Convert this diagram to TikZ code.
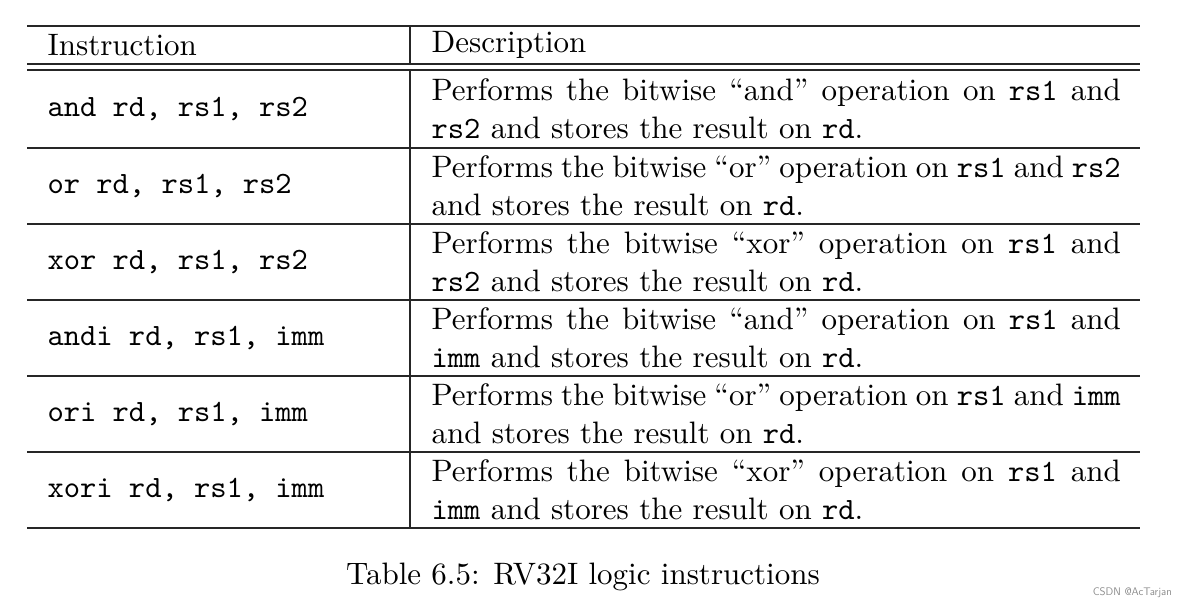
\documentclass[tikz,border=0pt]{standalone}
\tikzset{
  rule/.style={line width=1.5pt, draw=black!85},
  big/.style={scale=3.1, transform shape, inner sep=0pt},
  instr/.style={big, anchor=west, font=\fontsize{10}{12.26}\selectfont\ttfamily},
  desc/.style={big, anchor=west, text width=222.3pt, align=justify, font=\fontsize{10}{12.26}\selectfont},
  head/.style={big, anchor=west, font=\fontsize{10}{12.26}\selectfont}
}
\newcommand{\tw}[1]{\texttt{#1}}
\begin{document}
\begin{tikzpicture}[x=1pt,y=-1pt]
\useasboundingbox (0,0) rectangle (1187,610);
% rules
\draw[rule] (27,26) -- (1140,26);
\draw[rule] (27,64) -- (1140,64);
\draw[rule] (27,70) -- (1140,70);
\foreach \y in {148,224,300,376,452,528} \draw[rule] (27,\y) -- (1140,\y);
\draw[rule] (410,26) -- (410,64);
\draw[rule] (410,70) -- (410,528);
% header
\node[head] (h1) at (47,45) {Instruction};
\node[head] (h2) at (431,45) {Description};
% rows
\node[instr] (i1) at (47,109) {and rd, rs1, rs2};
\node[desc] (d1) at (431,109) {Performs the bitwise ``and'' operation on \tw{rs1} and \tw{rs2} and stores the result on \tw{rd}.};
\node[instr] (i2) at (47,186) {or rd, rs1, rs2};
\node[desc] (d2) at (431,186) {Performs the bitwise ``or'' operation on \tw{rs1} and \tw{rs2} and stores the result on \tw{rd}.};
\node[instr] (i3) at (47,262) {xor rd, rs1, rs2};
\node[desc] (d3) at (431,262) {Performs the bitwise ``xor'' operation on \tw{rs1} and \tw{rs2} and stores the result on \tw{rd}.};
\node[instr] (i4) at (47,338) {andi rd, rs1, imm};
\node[desc] (d4) at (431,338) {Performs the bitwise ``and'' operation on \tw{rs1} and \tw{imm} and stores the result on \tw{rd}.};
\node[instr] (i5) at (47,414) {ori rd, rs1, imm};
\node[desc] (d5) at (431,414) {Performs the bitwise ``or'' operation on \tw{rs1} and \tw{imm} and stores the result on \tw{rd}.};
\node[instr] (i6) at (47,490) {xori rd, rs1, imm};
\node[desc] (d6) at (431,490) {Performs the bitwise ``xor'' operation on \tw{rs1} and \tw{imm} and stores the result on \tw{rd}.};
% caption
\node[big, font=\fontsize{10}{12}\selectfont] (cap) at (583,577) {Table 6.5: RV32I logic instructions};
\node[anchor=east, inner sep=0pt, text=black!45, font=\fontsize{11}{13}\sffamily] (wm) at (1172,593) {CSDN @AcTarjan};
\end{tikzpicture}
\end{document}
